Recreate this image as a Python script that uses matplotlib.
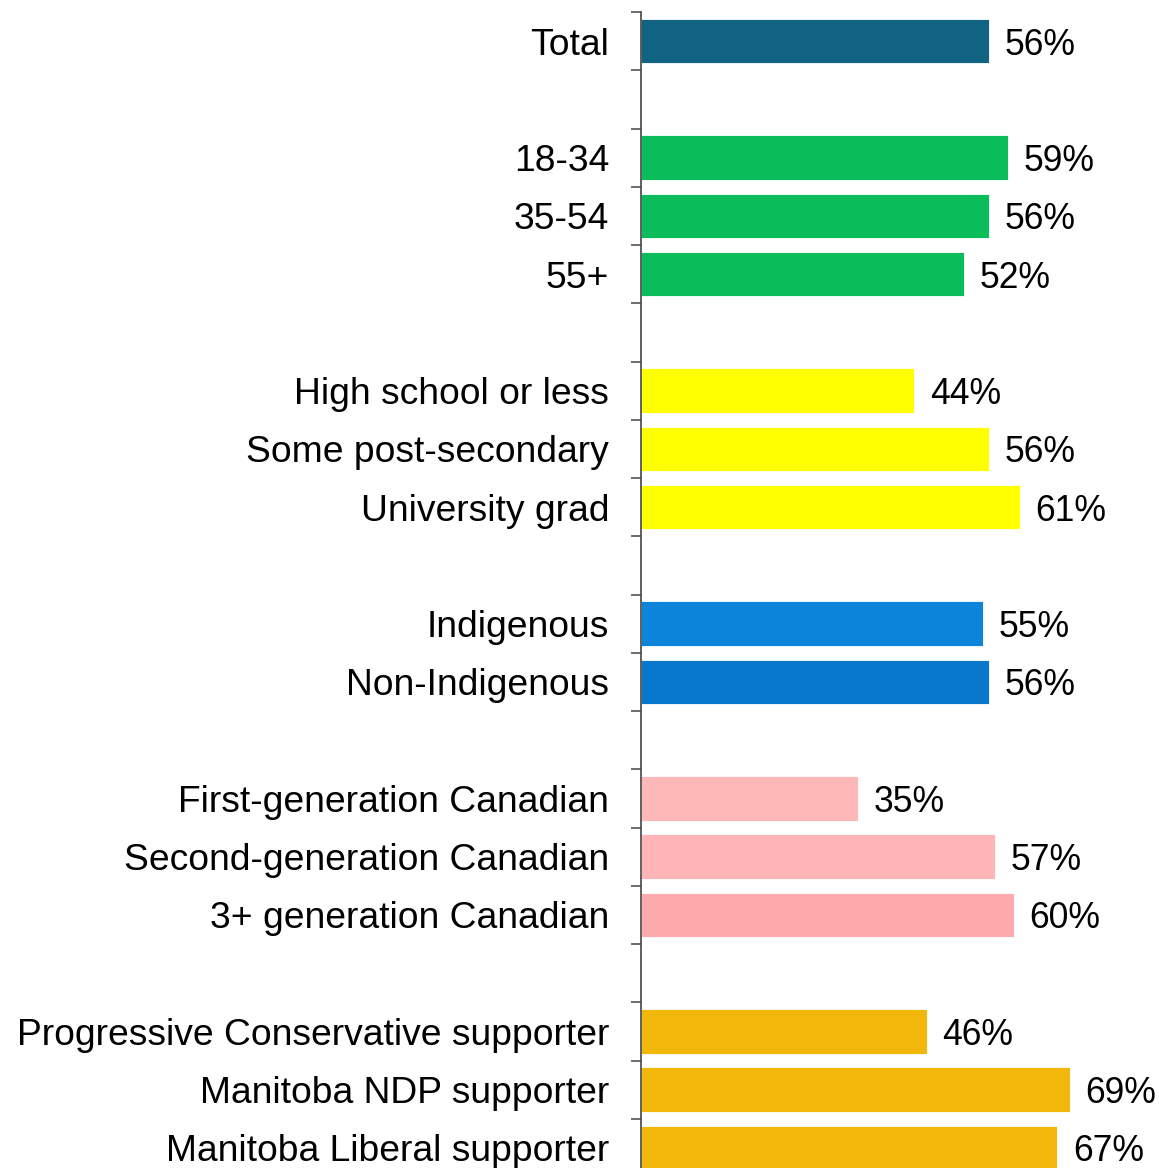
import matplotlib.pyplot as plt
import numpy as np

plt.rcParams['font.family'] = ['Liberation Sans', 'DejaVu Sans']

# groups of rows, blank slot between groups
groups = [
    ["Total"],
    ["18-34", "35-54", "55+"],
    ["High school or less", "Some post-secondary", "University grad"],
    ["Indigenous", "Non-Indigenous"],
    ["First-generation Canadian", "Second-generation Canadian", "3+ generation Canadian"],
    ["Progressive Conservative supporter", "Manitoba NDP supporter", "Manitoba Liberal supporter"],
]
group_values = [
    [56],
    [59, 56, 52],
    [44, 56, 61],
    [55, 56],
    [35, 57, 60],
    [46, 69, 67],
]
group_colors = [
    ["#116384"],
    ["#0ABD5A", "#0ABD5A", "#0ABD5A"],
    ["#FFFF00", "#FFFF00", "#FFFF00"],
    ["#0C84DA", "#0878CC"],
    ["#FFB8B8", "#FFB5B5", "#FFABAE"],
    ["#F1B80B", "#F1B80B", "#F1B80B"],
]

labels, values, colors, pos = [], [], [], []
slot = 0
for names, vals, cols in zip(groups, group_values, group_colors):
    for n, v, c in zip(names, vals, cols):
        labels.append(n)
        values.append(v)
        colors.append(c)
        pos.append(slot)
        slot += 1
    slot += 1  # empty row between groups
n_slots = slot - 1

W, H = 1159, 1168
fig = plt.figure(figsize=(W / 100, H / 100), dpi=100)
ax = fig.add_axes([641 / W, -9 / H, 1 - 641 / W, 1165 / H])

ax.barh(pos, values, height=0.76, color=colors, edgecolor='white', linewidth=0.6)
for p, v in zip(pos, values):
    ax.text(v + 2.5, p + 0.07, f"{v}%", va='center', ha='left', fontsize=25.6)

ax.set_ylim(n_slots - 0.5, -0.5)
ax.set_xlim(0, 518 / 6.214)

ax.set_yticks(pos)
ax.set_yticklabels(labels, fontsize=26.8)
ax.tick_params(axis='y', which='major', length=0, pad=23)
ax.set_yticks(np.arange(-0.5, n_slots, 1.0), minor=True)
ax.tick_params(axis='y', which='minor', length=7.5, width=1.2, color='#555555')

ax.set_xticks([])
for side in ['top', 'right', 'bottom']:
    ax.spines[side].set_visible(False)
ax.spines['left'].set_color('#444444')
ax.spines['left'].set_linewidth(1.2)

fig.savefig("out.png", dpi=100)
